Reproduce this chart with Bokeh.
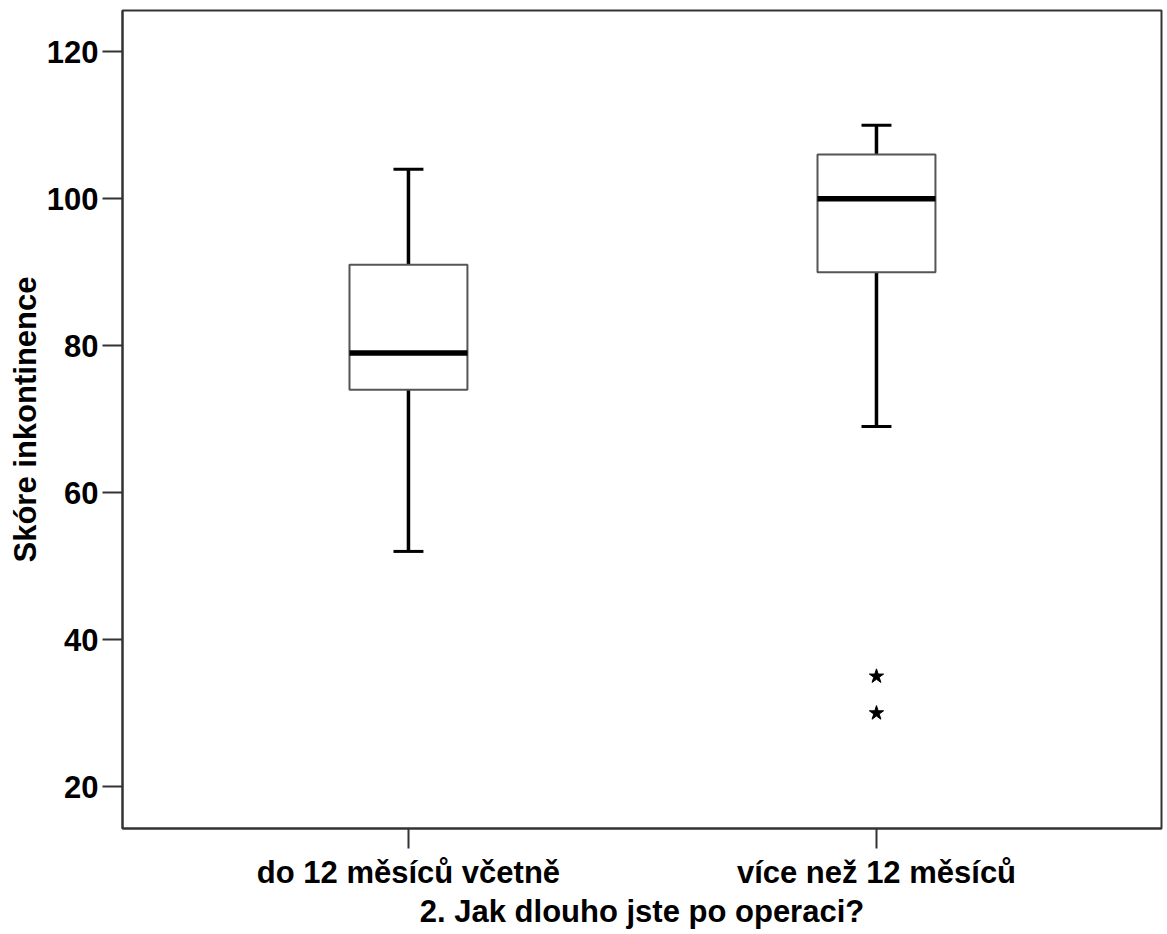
from bokeh.plotting import figure
from bokeh.models import Range1d, FixedTicker, ColumnDataSource
from bokeh.embed import file_html
from bokeh.resources import INLINE

categories = ["do 12 měsíců včetně", "více než 12 měsíců"]
lower_whisker = [52, 69]
q1 = [74, 90]
median = [79, 100]
q3 = [91, 106]
upper_whisker = [104, 110]
outlier_cat = [2, 2]
outlier_val = [35, 30]
y_ticks = [20, 40, 60, 80, 100, 120]

xs = [i + 1 for i in range(len(categories))]
box_w = 0.252
cap_w = 0.064

src = ColumnDataSource(dict(
    x=xs,
    left=[x - box_w / 2 for x in xs],
    right=[x + box_w / 2 for x in xs],
    cl=[x - cap_w / 2 for x in xs],
    cr=[x + cap_w / 2 for x in xs],
    lo=lower_whisker, q1=q1, med=median, q3=q3, hi=upper_whisker,
))

p = figure(width=1165, height=931, output_backend="svg", toolbar_location=None,
           x_range=Range1d(0.389, 2.609), y_range=Range1d(14.3, 125.6),
           min_border_left=122, min_border_top=10, min_border_right=4, min_border_bottom=100)

p.xgrid.visible = False
p.ygrid.visible = False
p.outline_line_color = "#333333"
p.outline_line_width = 2
p.background_fill_color = "white"

# whiskers
p.segment(x0="x", y0="q3", x1="x", y1="hi", source=src, line_color="black", line_width=3.5)
p.segment(x0="x", y0="lo", x1="x", y1="q1", source=src, line_color="black", line_width=3.5)
p.segment(x0="cl", y0="hi", x1="cr", y1="hi", source=src, line_color="black", line_width=3)
p.segment(x0="cl", y0="lo", x1="cr", y1="lo", source=src, line_color="black", line_width=3)
# boxes
p.vbar(x="x", width=box_w, bottom="q1", top="q3", source=src,
       fill_color="white", line_color="#555555", line_width=2)
# medians
p.segment(x0="left", y0="med", x1="right", y1="med", source=src, line_color="black", line_width=5.5)
# outliers
p.scatter(x=outlier_cat, y=outlier_val, marker="star", size=15,
          fill_color="black", line_color="black", line_width=1)

font = "Liberation Sans"
for ax in (p.xaxis[0], p.yaxis[0]):
    ax.axis_line_color = "#333333"
    ax.axis_line_width = 2
    ax.major_tick_line_color = "#333333"
    ax.major_tick_line_width = 2
    ax.major_tick_out = 20
    ax.major_tick_in = 0
    ax.minor_tick_line_color = None
    ax.major_label_text_font = font
    ax.major_label_text_font_style = "bold"
    ax.major_label_text_font_size = "31px"
    ax.major_label_text_color = "black"
    ax.axis_label_text_font = font
    ax.axis_label_text_font_style = "bold"
    ax.axis_label_text_font_size = "31px"
    ax.axis_label_text_color = "black"

p.xaxis.ticker = FixedTicker(ticks=xs)
p.xaxis.major_label_overrides = {x: c for x, c in zip(xs, categories)}
p.xaxis.axis_label = "2. Jak dlouho jste po operaci?"
p.xaxis.major_label_standoff = 6
p.xaxis.axis_label_standoff = 1

p.yaxis.ticker = FixedTicker(ticks=y_ticks)
p.yaxis.axis_label = "Skóre inkontinence"
p.yaxis.major_label_standoff = 4
p.yaxis.axis_label_standoff = 1

open("out.html", "w").write(file_html(p, INLINE))
